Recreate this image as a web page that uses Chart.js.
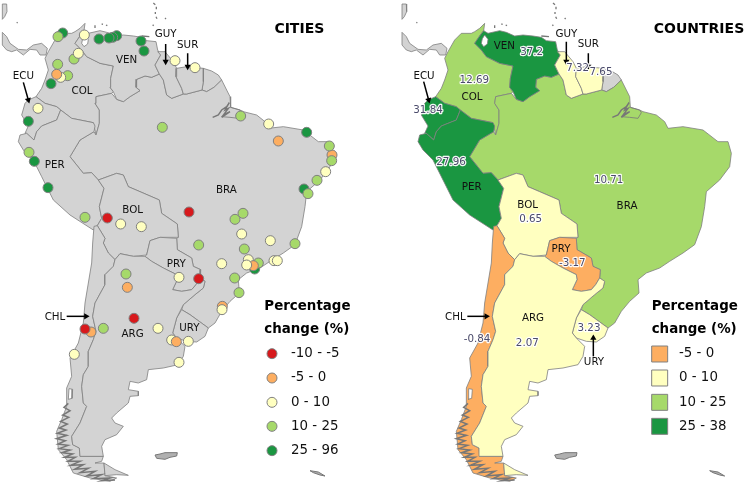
<!DOCTYPE html>
<html><head><meta charset="utf-8">
<style>html,body{margin:0;padding:0;background:#fff}canvas{display:block}</style>
<script src="https://cdn.jsdelivr.net/npm/chart.js@4/dist/chart.umd.min.js"></script>
</head><body><canvas id="c" width="747" height="486"></canvas>
<script>
// Map units: 1/3 px. Polygons outline the countries.
const VEN=[[332,92],[345,100],[380,92],[400,97],[425,108],[450,105],[480,108],[505,112],[520,122],[548,125],[553,150],[562,165],[545,195],[558,222],[535,232],[515,228],[490,238],[488,262],[500,272],[470,290],[450,305],[430,298],[420,275],[410,262],[412,235],[420,198],[380,190],[340,170],[325,150],[305,130],[322,105]];
const LAKE=[[335,105],[345,118],[343,132],[332,140],[325,130],[328,116]];
const COL=[[335,70],[320,85],[305,95],[295,100],[265,100],[245,120],[225,155],[215,175],[225,210],[215,240],[205,265],[188,290],[215,310],[250,320],[262,330],[295,355],[360,368],[368,405],[378,370],[378,330],[365,310],[368,290],[415,280],[420,275],[410,262],[412,235],[420,198],[380,190],[340,170],[325,150],[305,130],[322,105],[332,92]];
const ECU=[[188,290],[165,300],[155,310],[145,345],[160,370],[165,378],[155,400],[160,400],[182,420],[190,395],[205,378],[250,360],[262,330],[250,320],[215,310]];
const PER=[[140,405],[135,425],[150,450],[180,480],[205,530],[240,600],[290,645],[360,690],[372,677],[385,655],[378,620],[392,565],[375,540],[355,518],[330,520],[310,495],[290,470],[320,420],[362,395],[365,378],[360,368],[295,355],[262,330],[250,360],[205,378],[190,395],[182,420],[160,400]];
const BOL=[[375,540],[430,520],[450,525],[465,560],[500,575],[558,600],[565,640],[612,672],[615,712],[560,712],[530,722],[520,765],[480,769],[440,761],[425,779],[405,759],[390,729],[395,715],[372,677],[385,655],[378,620],[392,565]];
const PRY=[[530,722],[560,712],[610,715],[612,749],[655,774],[660,799],[682,809],[680,834],[668,854],[655,869],[625,874],[598,869],[612,839],[610,824],[570,804],[535,784],[515,769],[520,765]];
const GUY=[[553,155],[575,155],[600,185],[610,205],[608,230],[625,265],[630,282],[595,295],[580,285],[570,240],[558,222],[545,195],[562,165]];
const SUR=[[610,205],[640,200],[690,205],[690,245],[686,270],[640,282],[630,282],[625,265],[608,230]];
const GUF=[[690,205],[715,213],[735,225],[745,240],[722,262],[700,275],[686,270],[690,245]];
const BRA=[[415,280],[430,298],[450,305],[470,290],[500,272],[488,262],[490,238],[515,228],[535,232],[558,222],[570,240],[580,285],[595,295],[630,282],[640,282],[686,270],[700,275],[722,262],[745,240],[770,290],[772,322],[800,330],[810,335],[850,345],[875,365],[885,385],[930,380],[990,390],[1035,425],[1065,425],[1075,460],[1070,500],[1040,540],[1000,575],[995,620],[985,680],[965,734],[930,759],[890,784],[860,804],[820,819],[795,839],[798,879],[770,904],[745,934],[725,969],[705,984],[650,944],[625,929],[630,914],[665,884],[690,864],[695,844],[680,834],[682,809],[660,799],[655,774],[612,749],[610,715],[615,712],[612,672],[565,640],[558,600],[500,575],[465,560],[450,525],[430,520],[375,540],[355,518],[330,520],[310,495],[290,470],[320,420],[362,395],[368,405],[378,370],[378,330],[365,310],[368,290]];
const URY=[[625,929],[650,944],[705,984],[695,1009],[670,1026],[640,1024],[610,1014],[598,999],[610,954]];
const ARG=[[425,779],[440,761],[480,769],[515,769],[535,784],[570,804],[610,824],[612,839],[598,869],[625,874],[655,869],[668,854],[680,834],[695,844],[690,864],[665,884],[630,914],[610,954],[598,999],[610,1014],[635,1039],[630,1069],[615,1094],[570,1104],[525,1109],[520,1139],[495,1149],[470,1144],[465,1169],[495,1174],[495,1187],[470,1189],[465,1209],[430,1239],[415,1254],[425,1269],[450,1279],[430,1304],[395,1319],[385,1339],[390,1369],[320,1369],[318,1344],[298,1334],[295,1309],[320,1269],[340,1219],[330,1209],[325,1159],[330,1124],[345,1099],[345,1054],[360,1019],[368,994],[358,949],[365,909],[395,854],[395,824],[420,799]];
const ARGTF=[[392,1389],[425,1409],[465,1426],[430,1424],[395,1427]];
const CHL=[[362,679],[372,677],[395,715],[390,729],[405,759],[425,779],[420,799],[395,824],[395,854],[365,909],[358,949],[368,994],[360,1019],[345,1054],[345,1099],[330,1124],[325,1159],[330,1209],[340,1219],[320,1269],[295,1309],[298,1334],[318,1344],[320,1369],[390,1369],[385,1384],[365,1389],[392,1389],[395,1427],[430,1434],[410,1444],[350,1434],[300,1419],[280,1379],[255,1349],[250,1294],[265,1259],[280,1219],[280,1164],[295,1129],[290,1074],[315,1029],[330,969],[335,909],[345,849],[355,789],[358,729]];
const CHLGAP=[[287,1166],[298,1168],[296,1195],[285,1198]];
const CAM1=[[87,12],[100,12],[101,35],[94,50],[87,58]];
const CAM2=[[87,97],[100,110],[110,130],[135,148],[160,150],[180,135],[205,130],[222,145],[218,165],[200,165],[190,150],[170,148],[150,165],[130,150],[115,155],[100,150],[87,135]];
const FALK=[[545,1365],[560,1362],[575,1358],[612,1358],[610,1368],[590,1372],[575,1378],[550,1375]];
const SGEO=[[1010,1412],[1035,1416],[1055,1428],[1040,1425],[1020,1418]];
const AMAZON=[[718,352],[735,345],[745,330],[760,320],[768,308],[755,330],[765,325],[750,345],[770,335],[745,352]];
const MARAJO=[[772,322],[800,330],[805,338],[795,355],[770,352],[745,350]];
const FJORDS=[[285,1210],[272,1222],[290,1232],[268,1245],[286,1252],[262,1264],[282,1272],[258,1284],[278,1290],[252,1300],[280,1306],[250,1316],[276,1322],[254,1332],[284,1336],[258,1346],[290,1350],[266,1358],[298,1362],[274,1372],[306,1372],[284,1384],[320,1384],[292,1396],[330,1394],[304,1408],[345,1405],[320,1418],[365,1414],[340,1428],[385,1424],[360,1436],[410,1434],[385,1442],[425,1440]];
const ISLES=[[[540,9],[546,14]],[[549,20],[549,28]],[[546,36],[546,42]],[[548,50],[551,56]],[[575,54],[578,57]],[[538,74],[541,77]],[[130,67],[133,69]],[[385,72],[389,73]],[[398,75],[402,77]],[[365,76],[365,84]],[[505,108],[528,110]]];

const countryFill={VEN:3,COL:2,ECU:3,PER:3,BOL:1,PRY:0,GUY:1,SUR:1,BRA:2,URY:1,ARG:1,ARGTF:1,CHL:0};
const countryShapes={COL,BRA,VEN,ECU,PER,BOL,PRY,GUY,SUR,URY,CHL,ARG,ARGTF};
const countryColors=['#fdae61','#ffffc0','#a6d96a','#1a9641'];
const cityColors=['#d7191c','#fdae61','#ffffc0','#a6d96a','#1a9641'];
const GRAY='#d3d3d3', EDGE='#7f7f7f';

// [x, y, class]: 0 = -10 - -5, 1 = -5 - 0, 2 = 0 - 10, 3 = 10 - 25, 4 = 25 - 96
const cities=[[188,99,4],[174,110,3],[253,105,2],[297,117,4],[350,107,4],[338,112,4],[327,114,4],[423,123,4],[432,153,4],[525,182,2],[585,203,2],[222,177,3],[235,160,2],[173,193,3],[203,227,3],[182,232,2],[170,223,1],[153,251,4],[114,325,2],[85,364,4],[87,457,3],[103,484,4],[144,563,4],[487,382,3],[722,348,3],[806,372,2],[920,397,4],[835,423,1],[996,465,1],[988,438,3],[995,482,3],[977,515,2],[951,541,3],[912,567,4],[924,581,3],[729,640,3],[705,658,3],[725,702,2],[811,722,2],[885,731,3],[567,636,0],[322,654,0],[362,672,2],[424,680,2],[255,652,3],[596,735,3],[733,747,3],[665,791,2],[764,807,4],[775,789,3],[745,779,2],[760,797,1],[740,795,2],[822,782,2],[832,782,2],[704,834,3],[717,878,3],[667,919,1],[666,929,2],[537,832,2],[596,836,0],[378,822,3],[382,862,1],[402,955,0],[310,985,3],[273,996,1],[255,987,0],[223,1063,2],[474,985,2],[515,1020,2],[529,1025,1],[565,1024,2],[537,1087,2]];

const cityLegendLabels=['-10 - -5','-5 - 0','0 - 10','10 - 25','25 - 96'];
const cityLegendY=[1061,1134,1207,1279,1352];
const countryLegendLabels=['-5 - 0','0 - 10','10 - 25','25 - 38'];
const countryLegendY=[1062,1134,1207,1279];

const names=[['VEN',380,182,394,138],['COL',246,273,297,291],['GUY',497,104,580,104],['SUR',563,135,646,134],['ECU',70,228,153,228],['PER',164,497,296,562],['BOL',398,632,464,615],['BRA',679,570,762,619],['PRY',529,792,564,747],['CHL',165,951,247,951],['ARG',398,1002,480,955],['URY',568,986,663,1087]];
const values=[['37.2',476,158],['12.69',304,242],['7.32',614,205],['7.65',684,218],['31.84',165,332],['27.96',234,487],['10.71',707,540],['0.65',473,658],['-3.17',598,791],['-0.84',312,1019],['2.07',463,1031],['3.23',648,984]];
const arrowsLeft=[[497,132,497,185],[563,160,563,200],[70,247,85,300],[200,949,258,949]];
const arrowsRight=[[580,125,580,185],[646,160,646,200],[152,245,167,300],[283,949,340,949],[661,1069,661,1014]];

const pts=a=>a.map(([x,y])=>({x,y}));
const closed=a=>pts(a.concat([a[0]]));
const ds=[];
function poly(a,fill,xAxisID,edge,w){ds.push({data:closed(a),xAxisID,yAxisID:'y',showLine:true,tension:0,fill:'shape',backgroundColor:fill,borderColor:edge||EDGE,borderWidth:w||0.8,pointRadius:0,pointHitRadius:0});}
function stroke(a,xAxisID,w){ds.push({data:pts(a),xAxisID,yAxisID:'y',showLine:true,tension:0,fill:false,borderColor:'#777',borderWidth:w,pointRadius:0});}
function arrow(a,xAxisID){const [x0,y0,x1,y1]=a;const rot=Math.atan2(x1-x0,-(y1-y0))*180/Math.PI;
 ds.push({data:pts([[x0,y0],[x1,y1]]),xAxisID,yAxisID:'y',showLine:true,tension:0,fill:false,borderColor:'#000',backgroundColor:'#000',borderWidth:1.5,pointRadius:[0,3.6],pointBorderWidth:0,pointStyle:'triangle',pointRotation:rot});}

for(const ax of ['xL','xR']){
  const gray=ax==='xL';
  poly(CAM1,GRAY,ax);poly(CAM2,GRAY,ax);poly(GUF,GRAY,ax);
  for(const k in countryShapes) poly(countryShapes[k],gray?GRAY:countryColors[countryFill[k]],ax);
  poly(LAKE,'#ffffff',ax);poly(CHLGAP,'#ffffff',ax);
  poly(FALK,'#b0b0b0',ax,'#777',1);poly(SGEO,'#b0b0b0',ax,'#777',1);
  stroke(AMAZON,ax,1.4);stroke(MARAJO,ax,0.8);stroke(FJORDS,ax,1.5);
  ISLES.forEach(s=>stroke(s,ax,1.3));
}
ds.push({data:pts(cities),xAxisID:'xC',yAxisID:'y',showLine:false,pointRadius:5,pointBorderWidth:1,pointBorderColor:'#808080',pointBackgroundColor:cities.map(c=>cityColors[c[2]])});
ds.push({data:cityLegendY.map(y=>({x:816,y})),xAxisID:'xC',yAxisID:'y',showLine:false,pointRadius:5,pointBorderWidth:1,pointBorderColor:'#808080',pointBackgroundColor:cityColors});
ds.push({data:countryLegendY.map(y=>({x:860,y})),xAxisID:'xR',yAxisID:'y',showLine:false,pointStyle:'rect',pointRadius:11.3,pointBorderWidth:1,pointBorderColor:'#808080',pointBackgroundColor:countryColors});
arrowsLeft.forEach(a=>arrow(a,'xC'));
arrowsRight.forEach(a=>arrow(a,'xR'));
ds.forEach((d,i)=>d.order=ds.length-i);

const FONT='"DejaVu Sans"';
const textPlugin={id:'mapText',afterDatasetsDraw(chart){
  const {ctx,scales}=chart;
  const put=(t,ax,x,y,font,color,align,halo)=>{
    const px=scales[ax].getPixelForValue(x),py=scales.y.getPixelForValue(y);
    ctx.font=font;ctx.textAlign=align||'center';ctx.textBaseline='middle';
    if(halo){ctx.lineWidth=2.4;ctx.lineJoin='round';ctx.strokeStyle='rgba(255,255,255,0.95)';ctx.strokeText(t,px,py);}
    ctx.fillStyle=color;ctx.fillText(t,px,py);
  };
  ctx.save();
  const lab='10.3px '+FONT;
  names.forEach(([t,a,b,c,d])=>{put(t,'xC',a,b,lab,'#111');put(t,'xR',c,d,lab,'#111');});
  values.forEach(([t,x,y])=>put(t,'xR',x,y,lab,'#4b4b6b','center',true));
  const title='bold 14px '+FONT, lt='bold 13.4px '+FONT, li='13.4px '+FONT;
  put('CITIES','xC',898,88,title,'#000');
  put('COUNTRIES','xR',978,88,title,'#000');
  put('Percentage','xC',793,919,lt,'#000','left');
  put('change (%)','xC',793,988,lt,'#000','left');
  put('Percentage','xR',836,919,lt,'#000','left');
  put('change (%)','xR',836,988,lt,'#000','left');
  cityLegendLabels.forEach((t,i)=>put(t,'xC',873,cityLegendY[i],li,'#111','left'));
  countryLegendLabels.forEach((t,i)=>put(t,'xR',918,countryLegendY[i],li,'#111','left'));
  ctx.restore();
}};

const hidden=(min,max,extra)=>Object.assign({type:'linear',display:false,min,max},extra||{});
new Chart(document.getElementById('c'),{
  type:'scatter',
  data:{datasets:ds},
  plugins:[textPlugin],
  options:{responsive:false,animation:false,events:[],layout:{padding:0,autoPadding:false},
    plugins:{legend:{display:false},tooltip:{enabled:false}},
    scales:{
      xC:hidden(0,2241,{axis:'x'}),
      xL:hidden(80,2321,{axis:'x'}),
      xR:hidden(-1119,1122,{axis:'x'}),
      y:hidden(0,1458,{reverse:true,axis:'y'})
    }}
});
</script></body></html>
